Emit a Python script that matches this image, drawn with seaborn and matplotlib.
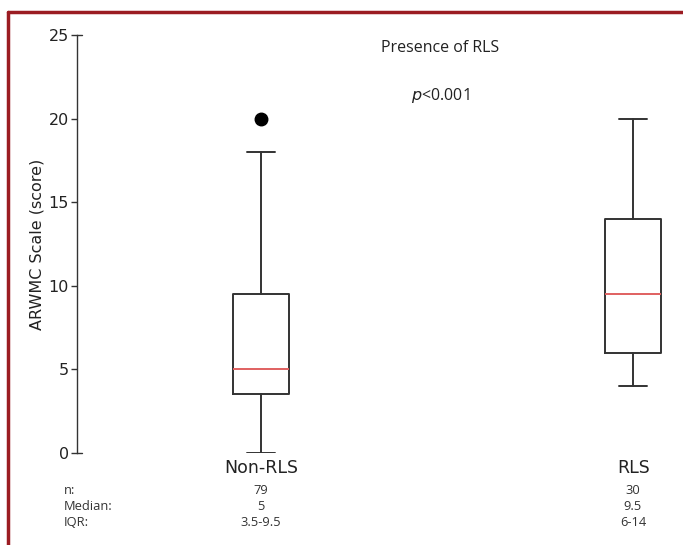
import matplotlib
matplotlib.use("Agg")
import matplotlib.pyplot as plt
import seaborn as sns
from matplotlib.lines import Line2D

# datos
grupos = ["Non-RLS", "RLS"]
n_casos = [79, 30]
medianas = [5, 9.5]
q1 = [3.5, 6]
q3 = [9.5, 14]
bigote_inf = [0, 4]
bigote_sup = [18, 20]
atipicos = [[20], []]
etiquetas_iqr = ["3.5-9.5", "6-14"]
etiquetas_mediana = ["5", "9.5"]

sns.set_theme(style="white")
plt.rcParams["font.family"] = ["DejaVu Sans"]

stats = []
for i, g in enumerate(grupos):
    stats.append({
        "label": g,
        "med": medianas[i],
        "q1": q1[i],
        "q3": q3[i],
        "whislo": bigote_inf[i],
        "whishi": bigote_sup[i],
        "fliers": atipicos[i],
    })

fig = plt.figure(figsize=(6.83, 5.45), dpi=100)
ax = fig.add_axes([0.1127, 0.1688, 0.8873, 0.767])

gris = "#333333"
posiciones = [1, 2]
ax.bxp(
    stats,
    positions=posiciones,
    widths=0.15,
    capwidths=0.075,
    boxprops=dict(color=gris, linewidth=1.4),
    whiskerprops=dict(color=gris, linewidth=1.4),
    capprops=dict(color=gris, linewidth=1.4),
    medianprops=dict(color="#e06060", linewidth=1.4),
    flierprops=dict(marker="o", markerfacecolor="black", markeredgecolor="black", markersize=9),
)

ax.set_xlim(0.505, 2.134)
ax.set_ylim(0, 25)
ax.set_yticks([0, 5, 10, 15, 20, 25])
ax.set_xticks(posiciones)
ax.set_xticklabels(grupos, fontsize=12.5, color="#222222")
ax.tick_params(axis="x", length=0, pad=4)
ax.tick_params(axis="y", direction="out", length=4, width=1, color=gris,
               labelsize=11.5, labelcolor="#222222", left=True, pad=2)
for s in ["top", "right", "bottom"]:
    ax.spines[s].set_visible(False)
ax.spines["left"].set_color(gris)
ax.spines["left"].set_linewidth(1)
ax.spines["left"].set_bounds(0, 25)
# pequeños topes del eje en 0 y 25
for yv in [0, 25]:
    ax.plot([0, 0.008], [yv, yv], transform=ax.get_yaxis_transform(),
            color=gris, linewidth=1, clip_on=False)
ax.set_ylabel("ARWMC Scale (score)", fontsize=11.5, color="#222222")
ax.yaxis.set_label_coords(-0.053, 0.5)
ax.grid(False)

fuente = ["Open Sans", "DejaVu Sans"]
fig.text(440 / 683, 1 - 48 / 545, "Presence of RLS", ha="center", va="center",
         fontsize=11.5, family=fuente, color="#222222")
fig.text(440 / 683, 1 - 95 / 545, r"$\it{p}$<0.001", ha="center", va="center",
         fontsize=11.5, family=fuente, color="#222222")

# tabla inferior
filas = ["n:", "Median:", "IQR:"]
ys = [490, 507, 523]
for fila, yp in zip(filas, ys):
    fig.text(64 / 683, 1 - yp / 545, fila, ha="left", va="center",
             fontsize=9.3, family=fuente, color="#333333")
centros = [261, 633]
for i in range(len(grupos)):
    valores = [str(n_casos[i]), etiquetas_mediana[i], etiquetas_iqr[i]]
    for v, yp in zip(valores, ys):
        fig.text(centros[i] / 683, 1 - yp / 545, v, ha="center", va="center",
                 fontsize=9.3, family=fuente, color="#333333")

# marco rojo (arriba e izquierda)
rojo = "#9b1c22"
fig.add_artist(Line2D([8 / 683, 1], [1 - 12 / 545, 1 - 12 / 545],
                      transform=fig.transFigure, color=rojo, linewidth=2.5))
fig.add_artist(Line2D([8 / 683, 8 / 683], [0, 1 - 12 / 545],
                      transform=fig.transFigure, color=rojo, linewidth=2.5))

fig.savefig("out.png", dpi=100)
